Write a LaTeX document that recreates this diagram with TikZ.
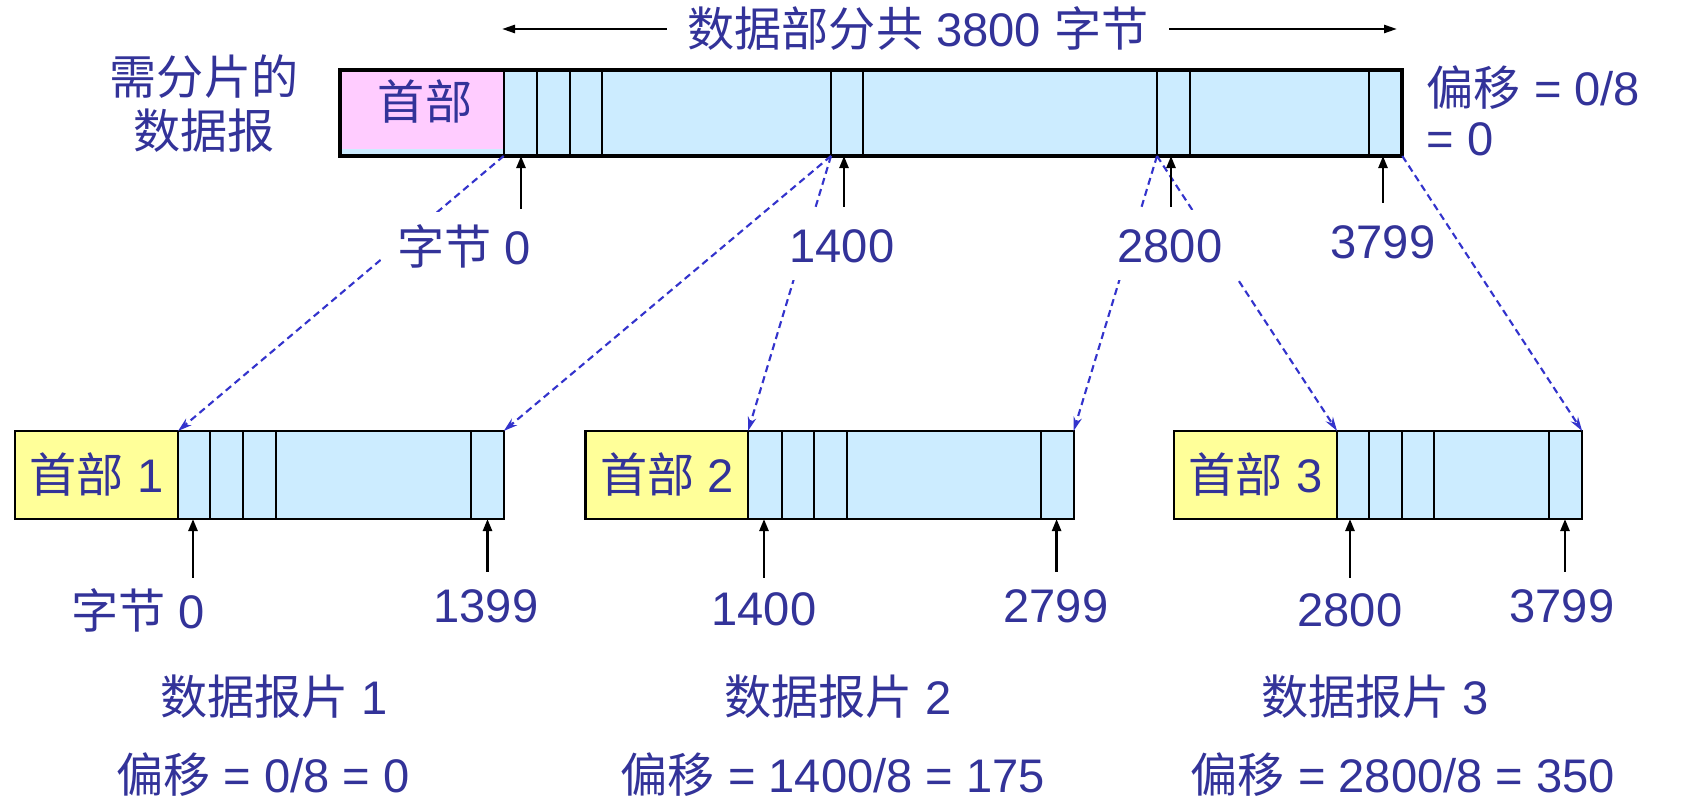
\documentclass[tikz,border=0pt]{standalone}
\usepackage{fontspec}
\setmainfont{Liberation Sans}
\newfontfamily\cjk{Noto Sans CJK SC}
\newcommand\zh[1]{{\cjk #1}}
\usetikzlibrary{arrows.meta}
\definecolor{txt}{RGB}{51,51,153}
\definecolor{dashc}{RGB}{51,51,204}
\definecolor{lblue}{RGB}{204,236,255}
\definecolor{pinkh}{RGB}{255,204,255}
\definecolor{yelh}{RGB}{255,255,153}
\begin{document}
\begin{tikzpicture}[x=0.01cm,y=-0.01cm,
  lab/.style={font=\fontsize{13.4pt}{16pt}\selectfont, text=txt, inner sep=0pt, text height=10.2pt, text depth=0pt},
  cover/.style={lab, fill=white, inner xsep=0.16cm, inner ysep=0.17cm},
  cell/.style={fill=lblue, inner sep=0pt, outer sep=0pt, minimum height=0.88cm},
  frag/.style={cell, draw=black, line width=0.6pt},
  fhdr/.style={lab, draw=black, fill=yelh, line width=0.6pt, inner sep=0pt, outer sep=0pt, minimum height=0.88cm, minimum width=1.63cm},
  divider/.style={line width=0.6pt},
  uparrow/.style={line width=0.7pt, -{Triangle[length=0.12cm,width=0.09cm]}},
  spanarrow/.style={line width=0.7pt, -{Triangle[length=0.13cm,width=0.08cm]}},
  link/.style={draw=dashc, line width=0.6pt, dash pattern=on 0.07cm off 0.045cm, -{Stealth[length=0.14cm,width=0.085cm]}}
]
\useasboundingbox[fill=white] (0,0) rectangle (1687,807);

% title with span arrows
\node[lab, inner xsep=0.2cm, fill=white] (title) at (918,29) {\zh{数据部分共} 3800 \zh{字节}};
\coordinate (tl) at (502,29);
\coordinate (tr) at (1397,29);
\draw[spanarrow] (title.west) -- (tl);
\draw[spanarrow] (title.east) -- (tr);

% left and right labels
\node[lab] (need1) at (204,77) {\zh{需分片的}};
\node[lab] (need2) at (204,131) {\zh{数据报}};
\node[lab, anchor=west] (off1) at (1426,88) {\zh{偏移} = 0/8};
\node[lab, anchor=west] (off2) at (1426,138) {= 0};

% original datagram
\node[cell, minimum width=10.62cm, minimum height=0.86cm] (top) at (871,113) {};
\node[fill=pinkh, inner sep=0pt, outer sep=0pt, minimum width=1.637cm, minimum height=0.79cm] (tophdr) at (421.85,109.5) {};
\node[lab] (tophdrt) at (425,102) {\zh{首部}};
\foreach \x in {503.7,537,570,602,831,863,1157,1190,1369}
  \draw[divider] (\x,70) -- (\x,156);
\draw[line width=1.2pt] (top.north west) rectangle (top.south east);

\coordinate (s1) at (503.7,156);
\coordinate (s2) at (831,156);
\coordinate (s3) at (1157,156);
\coordinate (s4) at (top.south east);

% fragments
\node[frag, minimum width=4.886cm] (f1) at (259.3,475) {};
\node[fhdr] (h1) at (96.5,475) {\zh{首部} 1};
\foreach \x in {210,243,276,471}
  \draw[divider] (\x,431) -- (\x,519);

\node[frag, minimum width=4.879cm] (f2) at (829.55,475) {};
\node[fhdr, minimum width=1.624cm] (h2) at (666.8,475) {\zh{首部} 2};
\foreach \x in {781.7,814,846.7,1041}
  \draw[divider] (\x,431) -- (\x,519);

\node[frag, minimum width=4.08cm] (f3) at (1378,475) {};
\node[fhdr] (h3) at (1255.5,475) {\zh{首部} 3};
\foreach \x in {1368.7,1401.7,1434.3,1549}
  \draw[divider] (\x,431) -- (\x,519);

% dashed mapping links
\draw[link] (s1) -- (h1.north east);
\draw[link] (s2) -- (f1.north east);
\draw[link] (s2) -- (h2.north east);
\draw[link] (s3) -- (f2.north east);
\draw[link] (s3) -- (h3.north east);
\draw[link] (s4) -- (f3.north east);

% byte labels on the original
\node[cover] (b0) at (464,247) {\zh{字节} 0};
\node[cover] (b1400) at (842,245) {1400};
\node[cover] (b2800) at (1170,245) {2800};
\node[lab] (b3799) at (1383,241) {3799};

\coordinate (ta1) at (521,209);
\coordinate (ta2) at (844,207);
\coordinate (ta3) at (1171,207);
\coordinate (ta4) at (1383,203);
\foreach \c in {ta1,ta2,ta3,ta4}
  \draw[uparrow] (\c) -- (\c |- top.south);

% fragment byte labels
\node[lab] (l1a) at (138,611) {\zh{字节} 0};
\node[lab] (l1b) at (486,605) {1399};
\node[lab] (l2a) at (764,608) {1400};
\node[lab] (l2b) at (1056,605) {2799};
\node[lab] (l3a) at (1350,609) {2800};
\node[lab] (l3b) at (1562,605) {3799};

\coordinate (ba1) at (193,578);
\coordinate (ba2) at (487.5,572);
\coordinate (ba3) at (764,578);
\coordinate (ba4) at (1056.6,572);
\coordinate (ba5) at (1350,578);
\coordinate (ba6) at (1565,572);
\draw[uparrow] (ba1) -- (ba1 |- f1.south);
\draw[uparrow] (ba2) -- (ba2 |- f1.south);
\draw[uparrow] (ba3) -- (ba3 |- f2.south);
\draw[uparrow] (ba4) -- (ba4 |- f2.south);
\draw[uparrow] (ba5) -- (ba5 |- f3.south);
\draw[uparrow] (ba6) -- (ba6 |- f3.south);

% fragment captions
\node[lab] (c1) at (274,697) {\zh{数据报片} 1};
\node[lab] (c2) at (838,697) {\zh{数据报片} 2};
\node[lab] (c3) at (1375,697) {\zh{数据报片} 3};
\node[lab] (o1) at (263,775) {\zh{偏移} = 0/8 = 0};
\node[lab] (o2) at (833,775) {\zh{偏移} = 1400/8 = 175};
\node[lab] (o3) at (1403,775) {\zh{偏移} = 2800/8 = 350};
\end{tikzpicture}
\end{document}
